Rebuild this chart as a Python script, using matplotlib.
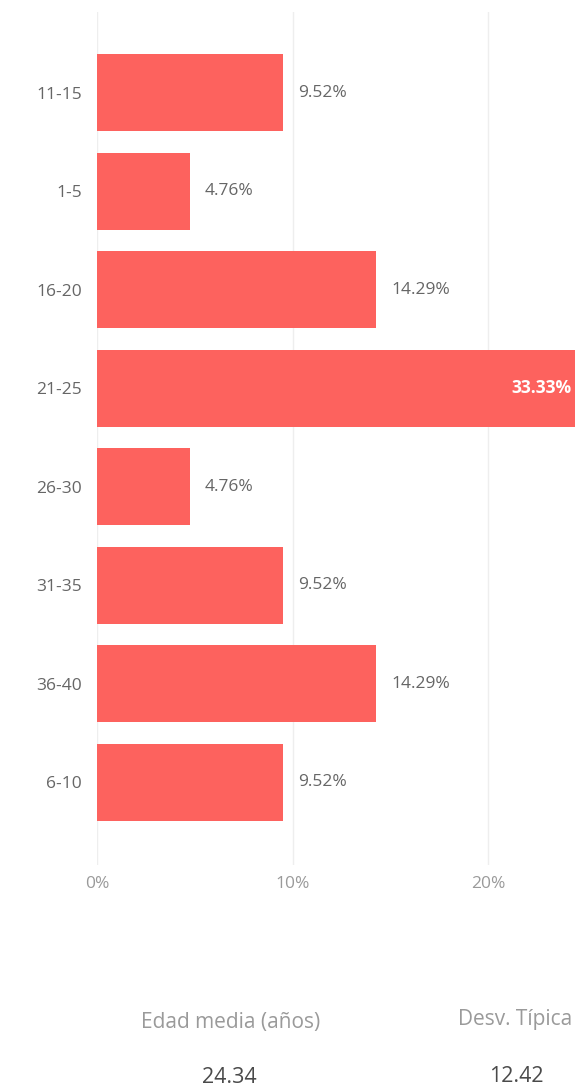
import matplotlib
matplotlib.use('Agg')
import matplotlib.pyplot as plt

categories = ['11-15', '1-5', '16-20', '21-25', '26-30', '31-35', '36-40', '6-10']
percent = [9.52, 4.76, 14.29, 33.33, 4.76, 9.52, 14.29, 9.52]
x_ticks = [0, 10, 20]
x_tick_labels = ['0%', '10%', '20%']
stat_titles = ['Edad media (años)', 'Desv. Típica']
stat_values = ['24.34', '12.42']

BAR = '#FD625E'
plt.rcParams['font.family'] = ['Open Sans', 'DejaVu Sans']

W, H = 575, 1086
fig = plt.figure(figsize=(W / 100, H / 100), dpi=100)
ax = fig.add_axes([97 / W, 1 - 865 / H, 1 - 97 / W, (865 - 12) / H])

xmax = (W - 97) / 19.55
ypos = list(range(len(categories)))
ax.barh(ypos, percent, height=0.78, color=BAR, zorder=2)
ax.set_xlim(0, xmax)
ax.set_ylim(len(categories) - 1 + 0.84, -0.82)

ax.set_yticks(ypos)
ax.set_yticklabels(categories, color='#666666', fontsize=12.5)
ax.set_xticks(x_ticks)
ax.set_xticklabels(x_tick_labels, color='#9a9a9a', fontsize=12.5)
ax.tick_params(axis='y', length=0, pad=11)
ax.tick_params(axis='x', length=0, pad=8)
ax.grid(axis='x', color='#eeeeee', linewidth=1, zorder=0)
for s in ax.spines.values():
    s.set_visible(False)

for y, v in zip(ypos, percent):
    if v > xmax:
        ax.text(xmax - 0.2, y, f'{v:.2f}%', ha='right', va='center',
                color='white', fontsize=12.5, fontweight='bold', zorder=3)
    else:
        ax.text(v + 0.77, y, f'{v:.2f}%', ha='left', va='center',
                color='#666666', fontsize=12.5, zorder=3)

fig.text(231 / W, 1 - 1028 / H, stat_titles[0], ha='center', va='baseline',
         color='#9a9a9a', fontsize=15)
fig.text(515 / W, 1 - 1025 / H, stat_titles[1], ha='center', va='baseline',
         color='#9a9a9a', fontsize=15)
fig.text(229 / W, 1 - 1083 / H, stat_values[0], ha='center', va='baseline',
         color='#4a4a4a', fontsize=15.5)
fig.text(516 / W, 1 - 1082 / H, stat_values[1], ha='center', va='baseline',
         color='#4a4a4a', fontsize=15.5)

fig.savefig('out.png', dpi=100, facecolor='white')
